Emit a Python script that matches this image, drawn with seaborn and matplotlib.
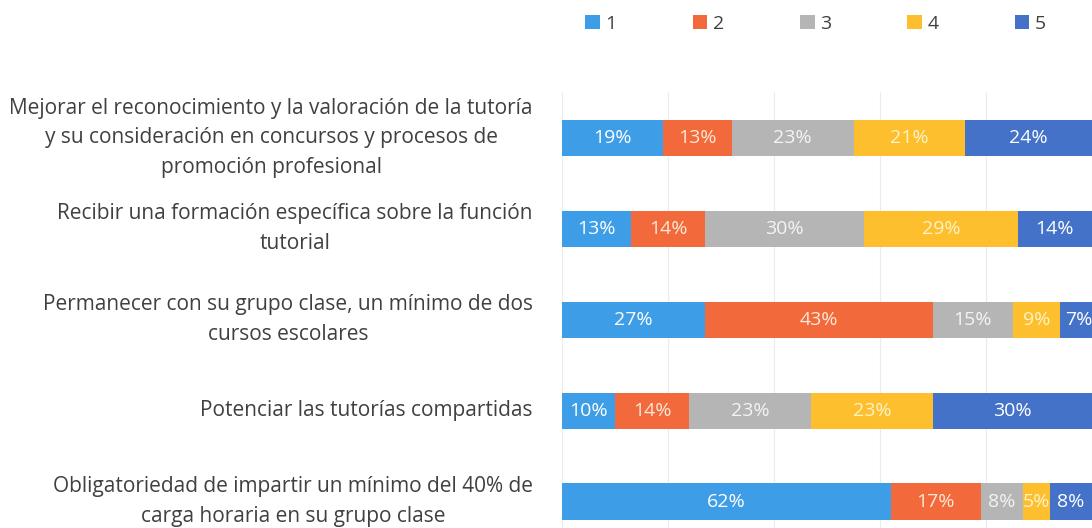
import numpy as np
import pandas as pd
import seaborn as sns
import matplotlib.pyplot as plt
from matplotlib.patches import Patch

categorias = [
    "Mejorar el reconocimiento y la valoración de la tutoría\ny su consideración en concursos y procesos de\npromoción profesional",
    "Recibir una formación específica sobre la función\ntutorial",
    "Permanecer con su grupo clase, un mínimo de dos\ncursos escolares",
    "Potenciar las tutorías compartidas",
    "Obligatoriedad de impartir un mínimo del 40% de\ncarga horaria en su grupo clase",
]
niveles = ["1", "2", "3", "4", "5"]
v1 = [19, 13, 27, 10, 62]
v2 = [13, 14, 43, 14, 17]
v3 = [23, 30, 15, 23, 8]
v4 = [21, 29, 9, 23, 5]
v5 = [24, 14, 7, 30, 8]
colores = ["#3d9de6", "#f26a3b", "#b5b5b5", "#fdbf2d", "#4472c8"]
color_txt = ["white", "#fde8d8", "#f4f4f4", "#fff3c8", "white"]

def tabla():
    df = pd.DataFrame({"cat": categorias, "1": v1, "2": v2, "3": v3, "4": v4, "5": v5})
    return df

df = tabla()
acum = df[niveles].cumsum(axis=1)

sns.set_style("white")
plt.rcParams['font.family'] = ['Open Sans', 'DejaVu Sans']

fig = plt.figure(figsize=(10.92, 5.28), dpi=100)
ax = fig.add_axes([0.5147, 0.0, 0.4853, 0.825])

# barras apiladas: se dibuja el acumulado de mayor a menor
for i in range(len(niveles) - 1, -1, -1):
    sns.barplot(x=acum[niveles[i]], y=df["cat"], color=colores[i], orient="h",
                width=0.4, ax=ax, saturation=1, linewidth=0)

# etiquetas de porcentaje en el centro de cada tramo
for j in range(len(df)):
    for i, n in enumerate(niveles):
        val = df.loc[j, n]
        centro = acum.loc[j, n] - val / 2
        ax.text(centro, j, f"{val}%", ha="center", va="center",
                color=color_txt[i], fontsize=14)

ax.set_xlim(0, 100)
ax.set_ylim(4.29, -0.5)
ax.set_xticks([0, 20, 40, 60, 80, 100])
ax.set_xticklabels([])
ax.grid(axis="x", color="#ececec", linewidth=0.8)
ax.set_axisbelow(True)
ax.set_xlabel("")
ax.set_ylabel("")
sns.despine(ax=ax, left=True, bottom=True, top=True, right=True)
ax.tick_params(axis="y", length=0, pad=21, labelsize=15, labelcolor="#404040")
for lab in ax.get_yticklabels():
    lab.set_multialignment("center")
    lab.set_linespacing(1.55)
    lab.set_verticalalignment("center")

handles = [Patch(facecolor=c, edgecolor="none") for c in colores]
fig.legend(handles, niveles, loc="center", bbox_to_anchor=(0.747, 0.955), ncol=5,
           frameon=False, fontsize=14, handlelength=0.75, handleheight=0.75,
           handletextpad=0.3, columnspacing=3.9, labelcolor="#404040")

plt.savefig("out.png", dpi=100)
